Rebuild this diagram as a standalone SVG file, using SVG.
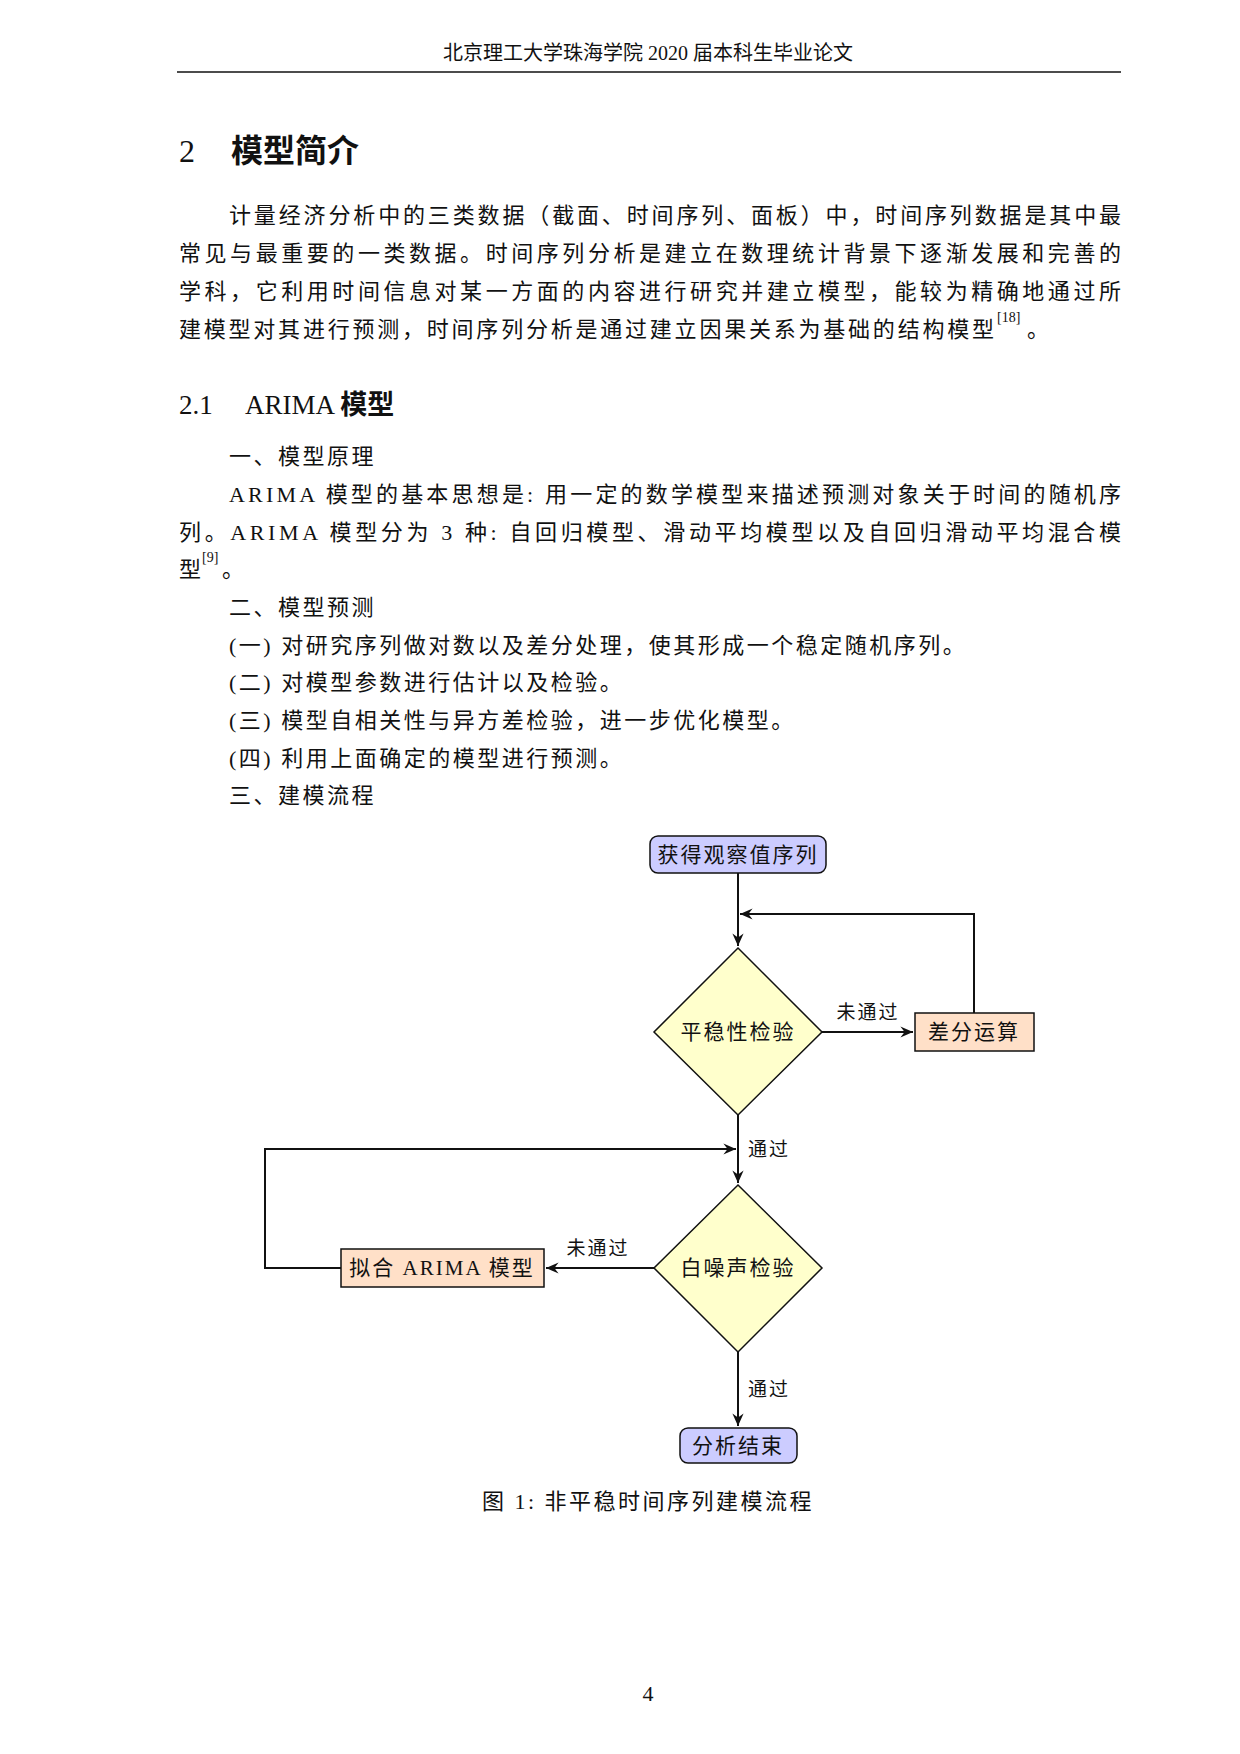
<svg xmlns="http://www.w3.org/2000/svg" width="1240" height="1754" viewBox="0 0 1240 1754">
<style>
text{font-family:"Liberation Serif","Noto Sans CJK SC",serif;fill:#111}
.p{font-size:22px}
.s{letter-spacing:2.5px}
.h{font-size:20px}
.n{font-size:21px;letter-spacing:2px}
.lab{font-size:19px;letter-spacing:2px}
.ln{stroke:#111;stroke-width:2;fill:none}
</style>
<defs><marker id="a" viewBox="0 0 10 10" refX="9" refY="5" markerWidth="7" markerHeight="7" orient="auto"><path d="M0,1 L9,5 L0,9 L3,5 Z" fill="#111"/></marker></defs>
<rect width="1240" height="1754" fill="#fff"/>
<text class="h" x="648" y="60" text-anchor="middle">北京理工大学珠海学院 2020 届本科生毕业论文</text>
<line x1="177" y1="72" x2="1121" y2="72" stroke="#111" stroke-width="1.5"/>
<text x="179" y="162" font-size="32">2</text>
<text x="231" y="162" font-size="32" font-weight="bold">模型简介</text>
<text class="p" x="229" y="223" textLength="892" lengthAdjust="spacing">计量经济分析中的三类数据（截面、时间序列、面板）中，时间序列数据是其中最</text>
<text class="p" x="179" y="261" textLength="942" lengthAdjust="spacing">常见与最重要的一类数据。时间序列分析是建立在数理统计背景下逐渐发展和完善的</text>
<text class="p" x="179" y="299" textLength="942" lengthAdjust="spacing">学科，它利用时间信息对某一方面的内容进行研究并建立模型，能较为精确地通过所</text>
<text class="p" x="179" y="337" textLength="815" lengthAdjust="spacing">建模型对其进行预测，时间序列分析是通过建立因果关系为基础的结构模型</text>
<text x="997" y="322" font-size="14">[18]</text><text class="p" x="1027" y="337">。</text>
<text x="179" y="414" font-size="27">2.1</text>
<text x="245" y="414" font-size="27">ARIMA <tspan font-weight="bold">模型</tspan></text>
<text class="p s" x="229" y="464">一、模型原理</text>
<text class="p" x="229" y="502" textLength="892" lengthAdjust="spacing">ARIMA 模型的基本思想是: 用一定的数学模型来描述预测对象关于时间的随机序</text>
<text class="p" x="179" y="540" textLength="942" lengthAdjust="spacing">列。ARIMA 模型分为 3 种: 自回归模型、滑动平均模型以及自回归滑动平均混合模</text>
<text class="p" x="179" y="577">型</text><text x="202" y="562" font-size="14">[9]</text><text class="p" x="222" y="577">。</text>
<text class="p s" x="229" y="615">二、模型预测</text>
<text class="p s" x="229" y="653">(一) 对研究序列做对数以及差分处理，使其形成一个稳定随机序列。</text>
<text class="p s" x="229" y="690">(二) 对模型参数进行估计以及检验。</text>
<text class="p s" x="229" y="728">(三) 模型自相关性与异方差检验，进一步优化模型。</text>
<text class="p s" x="229" y="766">(四) 利用上面确定的模型进行预测。</text>
<text class="p s" x="229" y="803">三、建模流程</text>
<g id="connectors">
<path class="ln" d="M738,873 V946" marker-end="url(#a)"/>
<path class="ln" d="M974,1013 V914 H740" marker-end="url(#a)"/>
<path class="ln" d="M822,1032 H913" marker-end="url(#a)"/>
<path class="ln" d="M738,1115 V1183" marker-end="url(#a)"/>
<path class="ln" d="M341,1268 H265 V1149 H736" marker-end="url(#a)"/>
<path class="ln" d="M654,1268 H546" marker-end="url(#a)"/>
<path class="ln" d="M738,1352 V1426" marker-end="url(#a)"/>
<text class="lab" x="868" y="1019" text-anchor="middle">未通过</text>
<text class="lab" x="769" y="1156" text-anchor="middle">通过</text>
<text class="lab" x="598" y="1255" text-anchor="middle">未通过</text>
<text class="lab" x="769" y="1396" text-anchor="middle">通过</text>
</g>
<g id="start"><rect x="650" y="836" width="176" height="37" rx="8" fill="#ccccff" stroke="#111" stroke-width="1.5"/><text class="n" x="738" y="862" text-anchor="middle">获得观察值序列</text></g>
<g id="d1"><polygon points="738,948 822,1032 738,1115 654,1032" fill="#ffffcc" stroke="#111" stroke-width="1.5"/><text class="n" x="738" y="1039" text-anchor="middle">平稳性检验</text></g>
<g id="diff"><rect x="915" y="1013" width="119" height="38" fill="#ffe0c8" stroke="#111" stroke-width="1.5"/><text class="n" x="974" y="1039" text-anchor="middle">差分运算</text></g>
<g id="d2"><polygon points="738,1185 822,1268 738,1352 654,1268" fill="#ffffcc" stroke="#111" stroke-width="1.5"/><text class="n" x="738" y="1275" text-anchor="middle">白噪声检验</text></g>
<g id="fit"><rect x="341" y="1249" width="203" height="38" fill="#ffe0c8" stroke="#111" stroke-width="1.5"/><text class="n" x="442" y="1275" text-anchor="middle">拟合 ARIMA 模型</text></g>
<g id="end"><rect x="680" y="1428" width="117" height="35" rx="8" fill="#ccccff" stroke="#111" stroke-width="1.5"/><text class="n" x="738" y="1453" text-anchor="middle">分析结束</text></g>
<text class="p s" x="648" y="1509" text-anchor="middle">图 1: 非平稳时间序列建模流程</text>
<text class="p" x="648" y="1701" text-anchor="middle">4</text>
</svg>
